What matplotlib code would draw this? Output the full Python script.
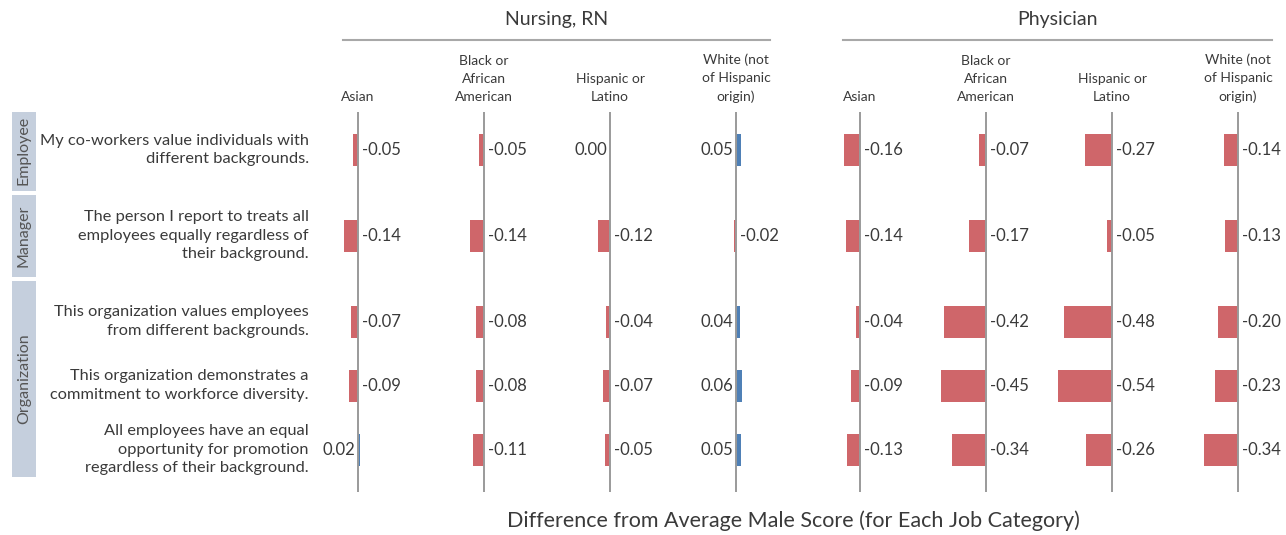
import matplotlib
matplotlib.use("Agg")
import matplotlib.pyplot as plt
from matplotlib.patches import Rectangle

plt.rcParams['font.family'] = ['Lato', 'DejaVu Sans']

# ---------------- data ----------------
questions = [
    "My co-workers value individuals with\ndifferent backgrounds.",
    "The person I report to treats all\nemployees equally regardless of\ntheir background.",
    "This organization values employees\nfrom different backgrounds.",
    "This organization demonstrates a\ncommitment to workforce diversity.",
    "All employees have an equal\nopportunity for promotion\nregardless of their background.",
]
question_groups = ["Employee", "Manager", "Organization", "Organization", "Organization"]
job_categories = ["Nursing, RN", "Physician"]
races = ["Asian", "Black or\nAfrican\nAmerican", "Hispanic or\nLatino", "White (not\nof Hispanic\norigin)"]

nursing_asian = [-0.05, -0.14, -0.07, -0.09, 0.02]
nursing_black = [-0.05, -0.14, -0.08, -0.08, -0.11]
nursing_hispanic = [0.00, -0.12, -0.04, -0.07, -0.05]
nursing_white = [0.05, -0.02, 0.04, 0.06, 0.05]
physician_asian = [-0.16, -0.14, -0.04, -0.09, -0.13]
physician_black = [-0.07, -0.17, -0.42, -0.45, -0.34]
physician_hispanic = [-0.27, -0.05, -0.48, -0.54, -0.26]
physician_white = [-0.14, -0.13, -0.20, -0.23, -0.34]

values = {
    "Nursing, RN": [nursing_asian, nursing_black, nursing_hispanic, nursing_white],
    "Physician": [physician_asian, physician_black, physician_hispanic, physician_white],
}
xlabel = "Difference from Average Male Score (for Each Job Category)"

# ---------------- style / layout ----------------
W, H = 1286, 535
DPI = 100
RED = '#cf666a'
BLUE = '#4f80b6'
TXT = '#3a3a3a'
GRID = '#9a9a9a'
BAND = '#c5cfdd'

fig = plt.figure(figsize=(W / DPI, H / DPI), dpi=DPI)
fig.patch.set_facecolor('white')

def fx(px):
    return px / W

def fy(py):
    return 1 - py / H

# row positions (group gaps)
group_gap = 0.34
pos = []
p = 0.0
for i, g in enumerate(question_groups):
    if i > 0:
        p += 1.0 + (group_gap if g != question_groups[i - 1] else 0.0)
    pos.append(p)

ROW_PX = 64.0
y0_px = 150.0
ylim = (5.35, -0.6)
top_px = y0_px + ylim[1] * ROW_PX
bot_px = y0_px + ylim[0] * ROW_PX

def add_px_axes(left, width):
    ax = fig.add_axes([fx(left), fy(bot_px), fx(width), (bot_px - top_px) / H])
    ax.set_ylim(*ylim)
    ax.axis('off')
    ax.patch.set_alpha(0)
    return ax

# label axes with group bands
lab = add_px_axes(0, 340)
lab.set_xlim(0, 340)
groups_order = []
for g in question_groups:
    if g not in groups_order:
        groups_order.append(g)
for gi, g in enumerate(groups_order):
    idx = [i for i, q in enumerate(question_groups) if q == g]
    first, last = idx[0], idx[-1]
    top = (pos[first] + pos[first - 1]) / 2 + 0.03 if first > 0 else -0.625
    bot = (pos[last] + pos[last + 1]) / 2 - 0.03 if last < len(pos) - 1 else pos[last] + 0.43
    lab.add_patch(Rectangle((12, top), 24, bot - top, facecolor=BAND, edgecolor='none'))
    lab.text(24, (top + bot) / 2, g, rotation=90, ha='center', va='center',
             fontsize=11.5, color='#555555')
for q, yp in zip(questions, pos):
    lab.text(309, yp, q, ha='right', va='center', fontsize=11.8, color=TXT,
             linespacing=1.42)

# panels
zero_px = {"Nursing, RN": [358, 484, 610, 736], "Physician": [860, 986, 1112, 1238]}
span_px = {"Nursing, RN": (343, 770), "Physician": (843, 1272)}
HALF = 60
for job in job_categories:
    for k, race in enumerate(races):
        z = zero_px[job][k]
        ax = add_px_axes(z - HALF, 2 * HALF)
        ax.set_xlim(-0.6, 0.6)
        vals = values[job][k]
        colors = [RED if v < 0 else BLUE for v in vals]
        ax.barh(pos, vals, height=0.5, color=colors, zorder=2)
        ax.axvline(0, color=GRID, lw=1.4, zorder=3)
        for v, yp in zip(vals, pos):
            if v < 0:
                ax.annotate(f"{v:.2f}", (0, yp), xytext=(3, 0), textcoords='offset points',
                            ha='left', va='center', fontsize=12, color=TXT)
            else:
                ax.annotate(f"{v:.2f}", (0, yp), xytext=(-2, 0), textcoords='offset points',
                            ha='right', va='center', fontsize=12, color=TXT)
        fig.text(fx(z), fy(103), race, ha='center', va='bottom', fontsize=10,
                 color=TXT, linespacing=1.6)
    x1, x2 = span_px[job]
    fig.add_artist(plt.Line2D([fx(x1), fx(x2)], [fy(40), fy(40)], color='#a8a8a8', lw=1.5))
    fig.text(fx((x1 + x2) / 2), fy(20), job, ha='center', va='center', fontsize=14, color=TXT)

fig.text(fx(793), fy(521), xlabel, ha='center', va='center', fontsize=15.5, color=TXT)

fig.savefig('out.png', dpi=DPI, facecolor='white')
